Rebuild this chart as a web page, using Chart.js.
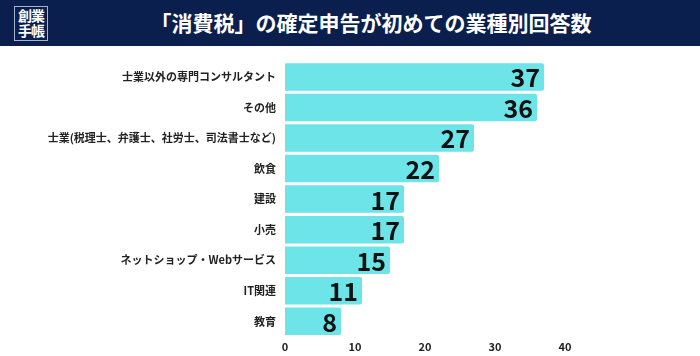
<!DOCTYPE html>
<html>
<head>
<meta charset="utf-8">
<script src="https://cdn.jsdelivr.net/npm/chart.js@4"></script>
<style>
  html, body { margin:0; padding:0; background:#fff; }
  body { width:700px; height:356px; overflow:hidden; position:relative; font-family:"Noto Sans CJK JP", sans-serif; }
  #header { position:absolute; left:0; top:0; width:700px; height:46px; background:#0b1f4f; }
  #logo { position:absolute; left:14px; top:6px; width:32px; height:32px; border:1px solid #aab4c8; color:#fff; font-weight:700; font-size:14px; line-height:15px; text-align:center; letter-spacing:-1px; box-sizing:content-box; padding-top:1px; }
  #title { position:absolute; left:0; width:742px; top:0; height:46px; line-height:45px; text-align:center; color:#fff; font-weight:700; font-size:21px; }
  #wrap { position:absolute; left:0; top:46px; width:700px; height:310px; }
</style>
</head>
<body>
<div id="header">
  <div id="logo">創業<br>手帳</div>
  <div id="title">「消費税」の確定申告が初めての業種別回答数</div>
</div>
<div id="wrap"><canvas id="c" width="700" height="310"></canvas></div>
<script>
const categories = ["士業以外の専門コンサルタント","その他","士業(税理士、弁護士、社労士、司法書士など)","飲食","建設","小売","ネットショップ・Webサービス","IT関連","教育"];
const values = [37,36,27,22,17,17,15,11,8];
const xTicks = [0,10,20,30,40];

const valueLabels = {
  id:'valueLabels',
  afterDatasetsDraw(chart){
    const ctx = chart.ctx;
    const meta = chart.getDatasetMeta(0);
    ctx.save();
    ctx.font = '700 25px "Noto Sans CJK JP"';
    ctx.fillStyle = '#111';
    ctx.textAlign = 'right';
    ctx.textBaseline = 'middle';
    meta.data.forEach((bar,i)=>{
      ctx.fillText(String(values[i]), bar.x - 4, bar.y + 1);
    });
    ctx.restore();
  }
};

new Chart(document.getElementById('c'), {
  type:'bar',
  data:{ labels:categories, datasets:[{ data:values, backgroundColor:'#6ce4e8', borderWidth:0, borderRadius:2, borderSkipped:'start', barPercentage:0.9, categoryPercentage:1.0 }] },
  options:{
    indexAxis:'y',
    responsive:false,
    animation:false,
    layout:{ padding:{ top:9.4, right:135, bottom:0, left:0 } },
    plugins:{ legend:{display:false}, tooltip:{enabled:false} },
    scales:{
      x:{
        min:0, max:40,
        afterBuildTicks(s){ s.ticks = xTicks.map(v=>({value:v})); },
        afterFit(s){ s.height = 19.4; },
        grid:{ display:false, drawTicks:false },
        border:{ display:false },
        ticks:{ padding:4, color:'#222', font:{ family:'"Noto Sans CJK JP"', weight:'700', size:11 } }
      },
      y:{
        afterFit(s){ s.width = 285; },
        grid:{ display:false, drawTicks:false },
        border:{ display:false },
        ticks:{ padding:9, color:'#222', font:{ family:'"Noto Sans CJK JP"', weight:'700', size:11 } }
      }
    }
  },
  plugins:[valueLabels]
});
</script>
</body>
</html>
